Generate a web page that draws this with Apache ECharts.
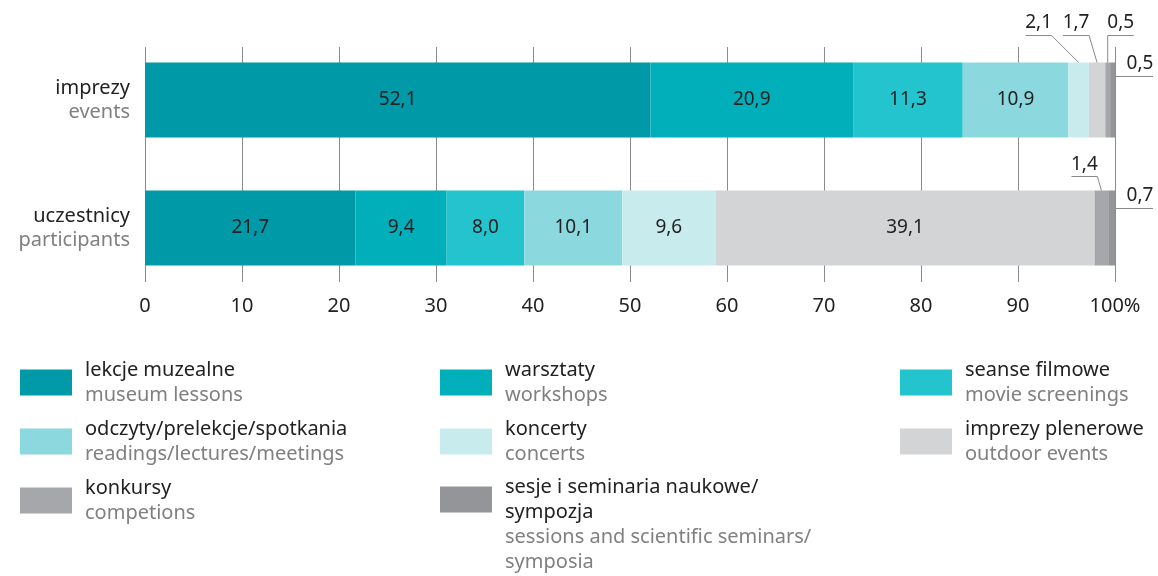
<!DOCTYPE html>
<html>
<head>
<meta charset="utf-8">
<script src="https://cdn.jsdelivr.net/npm/echarts@6/dist/echarts.min.js"></script>
<style>
	html, body { margin: 0; padding: 0; background: #fff; }
	#chart { width: 1158px; height: 576px; }
</style>
</head>
<body>
<div id="chart"></div>
<script>
var categories = ['imprezy', 'uczestnicy'];
var categoriesEn = ['events', 'participants'];

var seriesNames = ['lekcje muzealne', 'warsztaty', 'seanse filmowe', 'odczyty/prelekcje/spotkania',
	'koncerty', 'imprezy plenerowe', 'konkursy', 'sesje i seminaria naukowe/\nsympozja'];
var seriesNamesEn = ['museum lessons', 'workshops', 'movie screenings', 'readings/lectures/meetings',
	'concerts', 'outdoor events', 'competions', 'sessions and scientific seminars/\nsymposia'];

// percent shares, [imprezy, uczestnicy]
var lekcje = [52.1, 21.7];
var warsztaty = [20.9, 9.4];
var seanse = [11.3, 8.0];
var odczyty = [10.9, 10.1];
var koncerty = [2.1, 9.6];
var plenerowe = [1.7, 39.1];
var konkursy = [0.5, 1.4];
var sesje = [0.5, 0.7];

var seriesValues = [lekcje, warsztaty, seanse, odczyty, koncerty, plenerowe, konkursy, sesje];
var colors = ['#0099a8', '#00afb9', '#23c4cd', '#8bd9de', '#c8ecee', '#d3d4d6', '#a6a7aa', '#939598'];

// small values written outside the bar: 'up' above it with an underline, 'side' after the bar end
var smallLabels = {
	'4-0': { side: 'up', dx: -40, dy: -40, uy: -28 },
	'5-0': { side: 'up', dx: -21, dy: -40, uy: -28 },
	'6-0': { side: 'up', dx: 13, dy: -40, uy: -28, flip: true },
	'7-0': { side: 'side', dy: 1, uy: 13 },
	'6-1': { side: 'up', dx: -17, dy: -26, uy: -15 },
	'7-1': { side: 'side', dy: 5, uy: 17 }
};

var FONT = '"Noto Sans", "Open Sans", sans-serif';
var BAR_W = 75;

function fmt(v) {
	return v.toFixed(1).replace('.', ',');
}

// label centre and leader line for a small value, from the bar rect
function leaderGeom(p, r) {
	var cx = r.x + r.width / 2;
	if (p.side === 'up') {
		var lx = cx + p.dx;
		var uy = Math.round(r.y + p.uy) + 0.5;
		var a = p.flip ? lx + 13 : lx - 13;
		var b = p.flip ? lx - 13 : lx + 13;
		return { lx: lx, ly: r.y + p.dy, points: [[a, uy], [b, uy], [cx, r.y]] };
	}
	var rx = r.x + r.width;
	var sy = Math.round(r.y + p.uy) + 0.5;
	return { lx: rx + 25, ly: r.y + p.dy, points: [[rx + 1, sy], [rx + 38, sy]] };
}

function placeSmall(params) {
	var p = smallLabels[params.seriesIndex + '-' + params.dataIndex];
	if (!p) return {};
	var g = leaderGeom(p, params.rect);
	return { x: g.lx, y: g.ly, align: 'center', verticalAlign: 'middle' };
}

var series = seriesValues.map(function(vals, i) {
	return {
		name: seriesNames[i],
		type: 'bar',
		stack: 'total',
		xAxisIndex: 0,
		yAxisIndex: 0,
		barWidth: BAR_W,
		itemStyle: { color: colors[i] },
		label: {
			show: true,
			position: 'inside',
			color: '#222',
			fontFamily: FONT,
			fontSize: 19,
			formatter: function(p) { return fmt(p.value); }
		},
		labelLayout: placeSmall,
		data: vals,
		animation: false
	};
});

function legendFormatter(name) {
	var en = seriesNamesEn[seriesNames.indexOf(name)];
	var pl = name.split('\n').map(function(s) { return '{pl|' + s + '}'; }).join('\n');
	var e = en.split('\n').map(function(s) { return '{en|' + s + '}'; }).join('\n');
	return pl + '\n' + e;
}

var legendText = {
	fontFamily: FONT,
	padding: [0, 0, 0, 8],
	rich: {
		pl: { fontFamily: FONT, fontSize: 20, color: '#222', lineHeight: 25 },
		en: { fontFamily: FONT, fontSize: 20, color: '#808080', lineHeight: 25 }
	}
};

function makeLegend(left, top, names, text) {
	return {
		orient: 'vertical',
		left: left,
		top: top,
		padding: 0,
		itemGap: 14,
		itemWidth: 52,
		itemHeight: 26,
		icon: 'rect',
		selectedMode: false,
		data: names,
		formatter: legendFormatter,
		textStyle: text || legendText
	};
}

var sesjeText = echarts.util.merge({}, legendText, true);
sesjeText.padding = [50, 0, 0, 8];

var chartDom = document.getElementById('chart');
var myChart = echarts.init(chartDom);
var option;

option = {
	backgroundColor: '#fff',
	textStyle: { fontFamily: FONT },
	grid: [
		{ left: 145, right: 43, top: 36, height: 256 },
		{ left: 145, right: 43, top: 47, height: 235 }
	],
	xAxis: [
		{
			gridIndex: 0, type: 'value', min: 0, max: 100, interval: 10,
			show: false
		},
		{
			gridIndex: 1, type: 'value', min: 0, max: 100, interval: 10,
			axisLine: { show: false },
			axisTick: { show: false },
			splitLine: { show: true, lineStyle: { color: '#8c8c8c', width: 1 } },
			axisLabel: {
				margin: 14,
				color: '#222',
				fontFamily: FONT,
				fontSize: 20,
				formatter: function(v) { return v === 100 ? '100%' : v; }
			}
		}
	],
	yAxis: [
		{
			gridIndex: 0,
			type: 'category',
			inverse: true,
			data: categories,
			axisLine: { show: false },
			axisTick: { show: false },
			axisLabel: {
				margin: 15,
				align: 'right',
				formatter: function(v, idx) {
					return '{a|' + v + '}\n{b|' + categoriesEn[idx] + '}';
				},
				rich: {
					a: { fontFamily: FONT, fontSize: 20, color: '#222', lineHeight: 24, align: 'right' },
					b: { fontFamily: FONT, fontSize: 20, color: '#808080', lineHeight: 24, align: 'right' }
				}
			}
		},
		{
			gridIndex: 1, type: 'value', show: false, min: 0, max: 1
		}
	],
	legend: [
		makeLegend(20, 360, [seriesNames[0], seriesNames[3], seriesNames[6]]),
		makeLegend(440, 360, [seriesNames[1], seriesNames[4]]),
		makeLegend(440, 477, [seriesNames[7]], sesjeText),
		makeLegend(900, 360, [seriesNames[2], seriesNames[5]])
	],
	series: series
};

option && myChart.setOption(option);

// leader lines for the small values, placed through the chart's own scales
function drawLeaders() {
	var elements = [];
	Object.keys(smallLabels).forEach(function(key) {
		var s = +key.split('-')[0];
		var j = +key.split('-')[1];
		var start = 0;
		for (var k = 0; k < s; k++) start += seriesValues[k][j];
		var x0 = myChart.convertToPixel({ xAxisIndex: 0 }, start);
		var x1 = myChart.convertToPixel({ xAxisIndex: 0 }, start + seriesValues[s][j]);
		var yc = myChart.convertToPixel({ yAxisIndex: 0 }, j);
		var rect = { x: x0, y: yc - BAR_W / 2, width: x1 - x0, height: BAR_W };
		var g = leaderGeom(smallLabels[key], rect);
		elements.push({
			type: 'polyline',
			silent: true,
			z: 10,
			shape: { points: g.points },
			style: { stroke: '#8a8a8a', lineWidth: 1, fill: null }
		});
	});
	myChart.setOption({ graphic: { elements: elements } });
}
drawLeaders();
</script>
</body>
</html>
